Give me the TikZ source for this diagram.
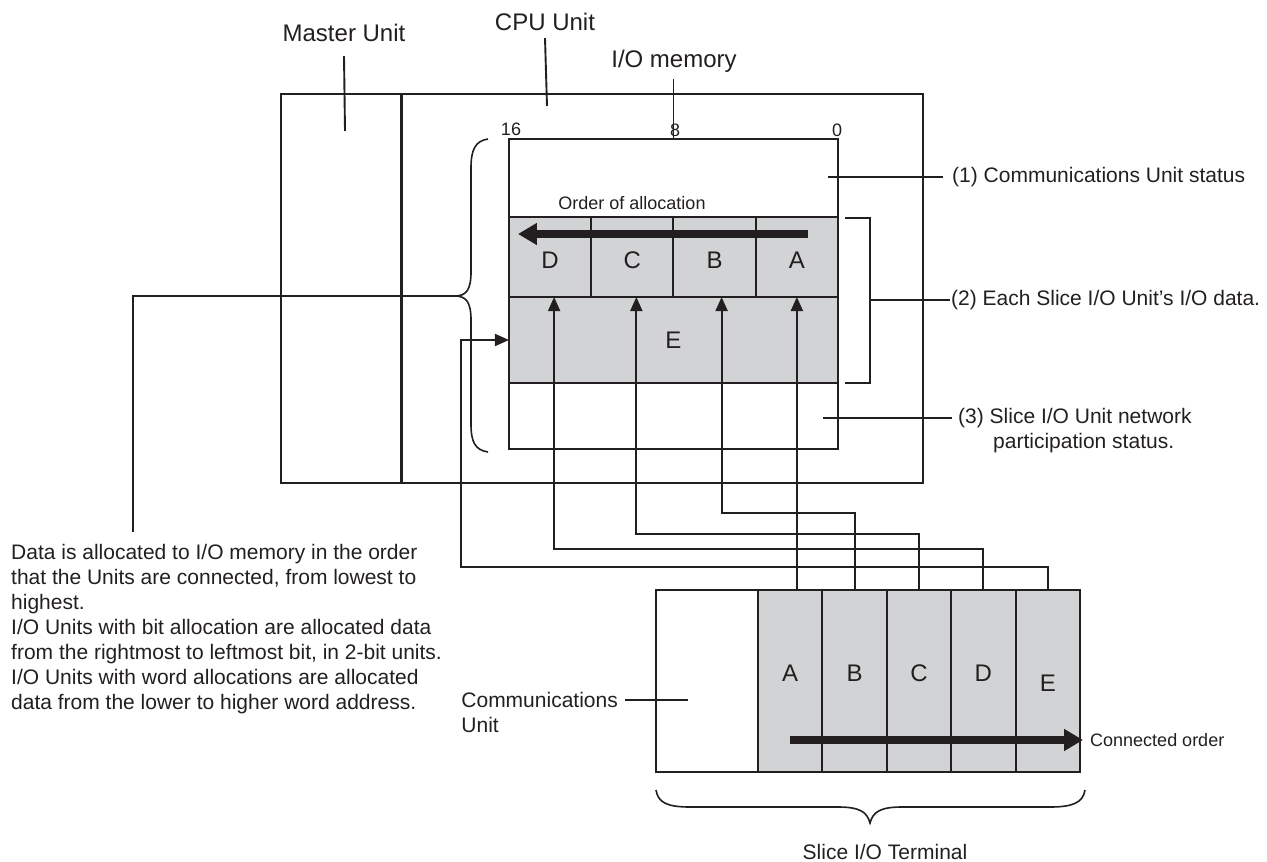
\documentclass[tikz,border=0pt]{standalone}
\usepackage{fontspec}
\setmainfont{Liberation Sans}
\usetikzlibrary{positioning,arrows.meta}
\definecolor{ink}{RGB}{35,31,32}
\definecolor{slot}{RGB}{209,211,212}
\newcommand{\slotmark}[2]{\raisebox{#1}[0pt][0pt]{#2}}

\begin{document}
\begin{tikzpicture}[x=1pt, y=-1pt,
unitnode/.style={rectangle, draw=ink, line width=2pt, inner sep=0pt, outer sep=0pt},
cellnode/.style={rectangle, draw=ink, fill=slot, line width=2pt, inner sep=0pt, outer sep=0pt, text=ink, font=\fontsize{24}{28}\selectfont},
titlenode/.style={text=ink, inner sep=0pt, font=\fontsize{24}{28}\selectfont},
textnode/.style={text=ink, inner sep=0pt, align=left, font=\fontsize{21}{25}\selectfont},
smallnode/.style={text=ink, inner sep=0pt, font=\fontsize{18}{21}\selectfont},
leader/.style={draw=ink, line width=1.9pt},
feed/.style={draw=ink, line width=1.9pt, -{Triangle[length=14pt, width=12pt]}},
flow/.style={draw=ink, line width=7.5pt, -{Triangle[length=19pt, width=21pt]}},
]
\useasboundingbox (0,0) rectangle (1267,862);

%Nodes
\node[unitnode, minimum width=120pt, minimum height=389pt]    (master)   at (341,288.5)   {};
\node[unitnode, minimum width=522pt, minimum height=389pt]    (cpu)      [right=0pt of master] {};
\draw[draw=ink, line width=3pt] (master.north east) -- (master.south east);
\node[unitnode, fill=white, minimum width=329pt, minimum height=310pt] (mem) at (673.5,294) {};
\node[cellnode, minimum width=82.25pt, minimum height=80pt]   (mD)       at (550.1,257)   {\slotmark{-11.5pt}{D}};
\node[cellnode, minimum width=82.25pt, minimum height=80pt]   (mC)       [right=0pt of mD] {\slotmark{-11.5pt}{C}};
\node[cellnode, minimum width=82.25pt, minimum height=80pt]   (mB)       [right=0pt of mC] {\slotmark{-11.5pt}{B}};
\node[cellnode, minimum width=82.25pt, minimum height=80pt]   (mA)       [right=0pt of mB] {\slotmark{-11.5pt}{A}};
\node[cellnode, minimum width=329pt, minimum height=86pt]     (mE)       [below=0pt of mD.south west, anchor=north west] {E};

\node[unitnode, minimum width=102pt, minimum height=182pt]    (comm)     at (707,681)     {};
\node[cellnode, minimum width=64.4pt, minimum height=182pt]   (tA)       [right=0pt of comm] {\slotmark{0pt}{A}};
\node[cellnode, minimum width=64.4pt, minimum height=182pt]   (tB)       [right=0pt of tA] {\slotmark{0pt}{B}};
\node[cellnode, minimum width=64.4pt, minimum height=182pt]   (tC)       [right=0pt of tB] {\slotmark{0pt}{C}};
\node[cellnode, minimum width=64.4pt, minimum height=182pt]   (tD)       [right=0pt of tC] {\slotmark{0pt}{D}};
\node[cellnode, minimum width=64.4pt, minimum height=182pt]   (tE)       [right=0pt of tD] {\slotmark{-10pt}{E}};

\node[titlenode]  (masterLbl)  at (344,33)   {Master Unit};
\node[titlenode]  (cpuLbl)     at (545,22)   {CPU Unit};
\node[titlenode]  (memLbl)     at (674,61)   {I/O memory};
\node[smallnode]  (bit16)      at (511,129)  {16};
\node[smallnode]  (bit8)       at (675,130)  {8};
\node[smallnode]  (bit0)       at (837,130)  {0};
\node[smallnode]  (orderLbl)   at (632,203)  {Order of allocation};
\node[smallnode, anchor=west]  (connLbl)  at (1090,740)  {Connected order};

\node[textnode, anchor=west]  (note1)   at (952,177)  {(1) Communications Unit status};
\node[textnode, anchor=west]  (note2)   at (951,300)  {(2) Each Slice I/O Unit's I/O data.};
\node[textnode, anchor=west]  (note3)   at (958,418)  {(3) Slice I/O Unit network};
\node[textnode, anchor=west]  (note3b)  at (993,443)  {participation status.};
\node[textnode, anchor=north west]  (allocNote)  at (11,544)  {Data is allocated to I/O memory in the order\\
that the Units are connected, from lowest to\\
highest.\\
I/O Units with bit allocation are allocated data\\
from the rightmost to leftmost bit, in 2-bit units.\\
I/O Units with word allocations are allocated\\
data from the lower to higher word address.};
\node[textnode, anchor=north east]  (commLbl)  at (618,692)  {Communications\\Unit};
\node[textnode]  (termLbl)  at (885,852)  {Slice I/O Terminal};

\coordinate (masterPt) at (345,131);
\coordinate (cpuPt)    at (547,106);
\coordinate (stat1)    at (828,177);
\coordinate (stat3)    at (823,418);
\coordinate (commPt)   at (688,700);
\coordinate (braceTip) at (455,296);
\coordinate (notePt)   at (133,532);

%Lines
\draw[leader] ([yshift=-14pt]masterLbl.south) -- (masterPt);
\draw[leader] ([yshift=-7pt]cpuLbl.south) -- (cpuPt);
\draw[leader] ([yshift=-7pt]memLbl.south -| mem.north) -- (mem.north);
\draw[leader] (stat1) -- ([xshift=-9pt]note1.west);
\draw[leader] (845,218) -- (870,218) -- (870,383) -- (845,383);
\draw[leader] (870,300) -- ([xshift=-1pt]note2.west);
\draw[leader] (stat3) -- ([xshift=-6pt]note3.west);
\draw[leader] ([xshift=7pt]commLbl.north east |- commPt) -- (commPt);
\draw[leader] (braceTip) -| (notePt);

% braces
\draw[draw=ink, line width=1.6pt] (488,139) .. controls (475,141) and (471,150) .. (471,168) -- (471,272) .. controls (471,290) and (466,296) .. (braceTip)
  .. controls (466,296) and (471,302) .. (471,320) -- (471,424) .. controls (471,442) and (475,450) .. (488,452);
\draw[draw=ink, line width=1.6pt] (656,790) .. controls (658,803) and (668,807) .. (690,807) -- (838,807) .. controls (860,807) and (867,812) .. (870,823)
  .. controls (873,812) and (880,807) .. (902,807) -- (1050,807) .. controls (1072,807) and (1083,803) .. (1085,790);

% order arrows
\draw[flow] ([shift={(-30pt,-17pt)}]mA.north east) -- ([shift={(9pt,-17pt)}]mD.north west);
\draw[flow] ([yshift=32pt]tA.south) -- ([shift={(3pt,32pt)}]tE.south east);

% data paths
\draw[feed] (mA.south |- tA.north) -- (mA.south);
\draw[feed] (tB.north) -- ++(0,-77) -| ([xshift=7pt]mB.south);
\draw[feed] (tC.north) -- ++(0,-56) -| ([xshift=4pt]mC.south);
\draw[feed] (tD.north) -- ++(0,-41) -| ([xshift=4pt]mD.south);
\draw[feed] (tE.north) -- ++(0,-23) -| ([xshift=-48pt]mE.west) -- (mE.west);
\end{tikzpicture}
\end{document}
